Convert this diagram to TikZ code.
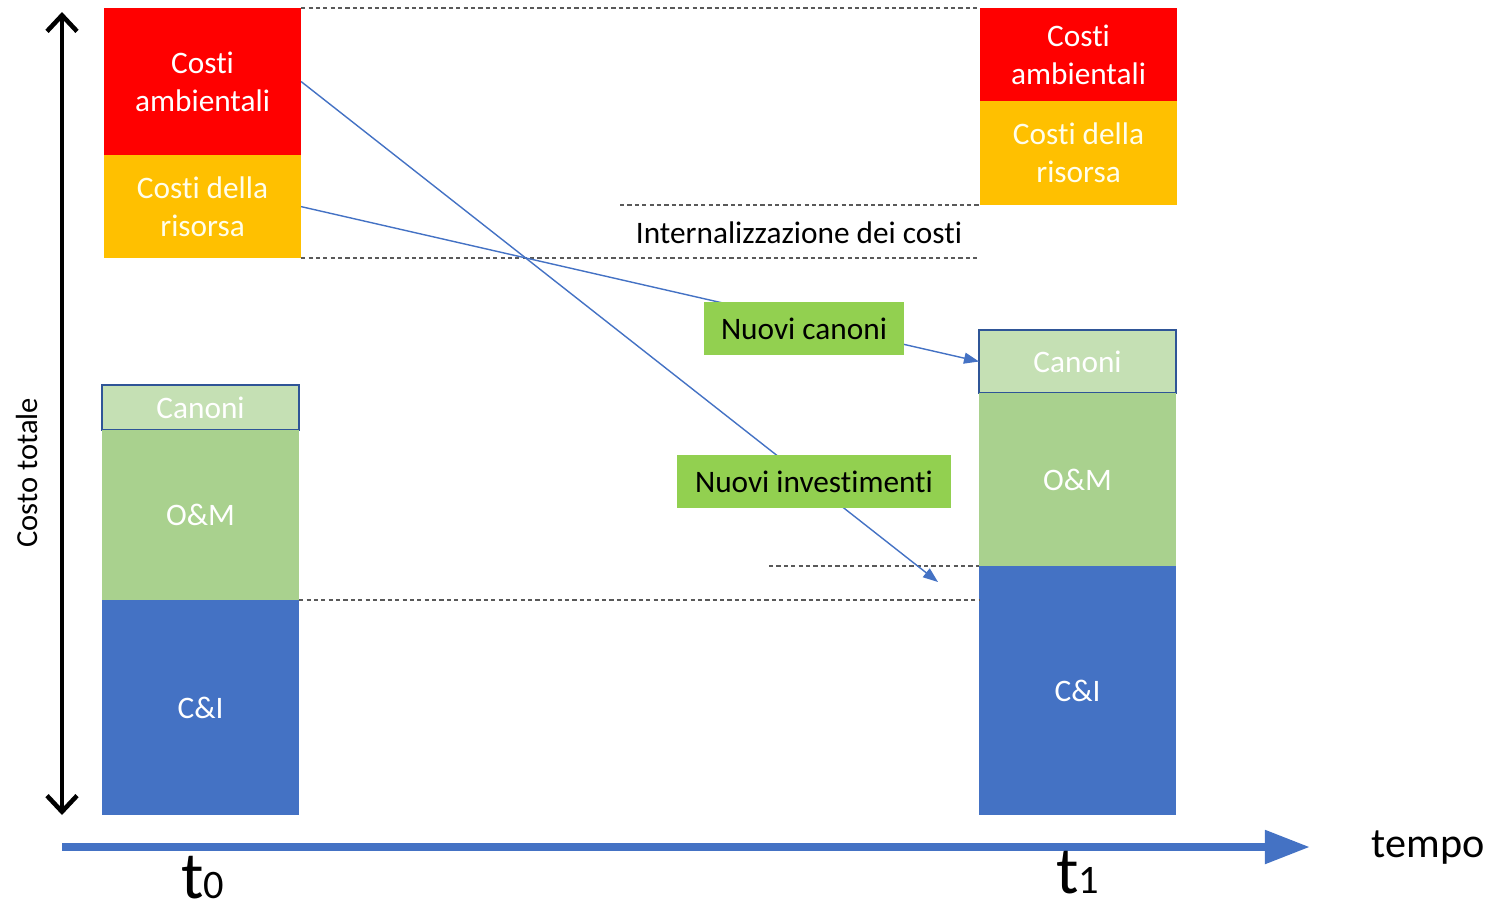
\documentclass[tikz,border=0pt]{standalone}
\usepackage{fontspec}
\setmainfont{Carlito}[Ligatures=NoCommon]
\usetikzlibrary{positioning}
\usetikzlibrary{arrows.meta}

\definecolor{ambred}{HTML}{FF0000}
\definecolor{risyellow}{HTML}{FFC000}
\definecolor{canlight}{HTML}{C5E0B4}
\definecolor{canborder}{HTML}{2F5597}
\definecolor{omgreen}{HTML}{A9D18E}
\definecolor{ciblue}{HTML}{4472C4}
\definecolor{nuovigreen}{HTML}{92D050}

\tikzset{
  block/.style={rectangle, inner sep=0pt, outer sep=0pt, align=center, text=white,
    minimum width=1.97cm, font=\fontsize{8.9}{10.8}\selectfont},
  amb/.style={block, fill=ambred},
  ris/.style={block, fill=risyellow, text=white!92!yellow},
  can/.style={block, fill=canlight, draw=canborder, line width=0.6pt},
  om/.style={block, fill=omgreen},
  ci/.style={block, fill=ciblue},
  nuovi/.style={rectangle, fill=nuovigreen, inner sep=0pt,
    minimum height=0.53cm, font=\fontsize{8.9}{10.8}\selectfont},
  guide/.style={gray!70!black, line width=0.4pt, dash pattern=on 1.2pt off 0.9pt},
  link/.style={ciblue, line width=0.4pt, -{Triangle[length=0.15cm, width=0.11cm]}}
}

\begin{document}
\begin{tikzpicture}[x=0.01cm, y=-0.01cm]
\useasboundingbox (0,0) rectangle (1496,914);

% Stack at t0
\node[amb, anchor=north west, minimum height=1.47cm] (amb0) at (104,8) {Costi\\ambientali};
\node[ris, minimum height=1.03cm, below=0pt of amb0] (ris0) {Costi della\\risorsa};
\node[can, anchor=north west, minimum height=0.45cm] (can0) at (102,385) {Canoni};
\node[om, minimum height=1.70cm, below=0pt of can0] (om0) {O\&M};
\node[ci, minimum height=2.15cm, below=0pt of om0] (ci0) {C\&I};

% Stack at t1
\node[amb, anchor=north west, minimum height=0.93cm] (amb1) at (980,8) {Costi\\ambientali};
\node[ris, minimum height=1.04cm, below=0pt of amb1] (ris1) {Costi della\\risorsa};
\node[can, anchor=north west, minimum height=0.63cm] (can1) at (979,330) {Canoni};
\node[om, minimum height=1.73cm, below=0pt of can1] (om1) {O\&M};
\node[ci, minimum height=2.49cm, below=0pt of om1] (ci1) {C\&I};

% Guide lines
\coordinate (intStart) at (620,203);
\coordinate (invStart) at (769,565);
\draw[guide] (amb0.north east) -- (amb1.north west);
\draw[guide] (ris0.south east) -- (ris0.south east -| amb1.west);
\draw[guide] (ris1.south west -| intStart) -- (ris1.south west);
\draw[guide] (ci0.north east) -- (ci0.north east -| ci1.west);
\draw[guide] (ci1.north west -| invStart) -- (ci1.north west);
\node[font=\fontsize{8.9}{10.8}\selectfont] (intern) at (799,233) {Internalizzazione dei costi};

% Shifts
\coordinate (invEnd) at (938,582);
\draw[link] (ris0.east) -- (can1.west);
\draw[link] (amb0.east) -- (invEnd);
\node[nuovi, minimum width=2.00cm] (ncan) at (804,328.5) {Nuovi canoni};
\node[nuovi, minimum width=2.74cm] (ninv) at (814,481.5) {Nuovi investimenti};

% Axes
\coordinate (yTop) at (62,12);
\coordinate (yBot) at (62,815);
\coordinate (xStart) at (62,847);
\coordinate (xEnd) at (1310,847);
\draw[line width=1.3pt, {Straight Barb[length=0.16cm, width=0.3cm]}-{Straight Barb[length=0.16cm, width=0.3cm]}] (yTop) -- (yBot);
\draw[ciblue, line width=2.3pt, -{Triangle[length=0.45cm, width=0.32cm]}] (xStart) -- (xEnd);
\node[rotate=90, font=\fontsize{8.7}{10}\selectfont] (costo) at (27,473) {Costo totale};
\node[font=\fontsize{12}{14}\selectfont] (tempo) at (1428,848) {tempo};
\node[anchor=base, inner sep=0pt, font=\fontsize{19}{20}\selectfont] (t0) at (203,898) {t{\fontsize{11.5}{12}\selectfont 0}};
\node[anchor=base, inner sep=0pt, font=\fontsize{19}{20}\selectfont] (t1) at (1078,893) {t{\fontsize{11.5}{12}\selectfont 1}};

\end{tikzpicture}
\end{document}
